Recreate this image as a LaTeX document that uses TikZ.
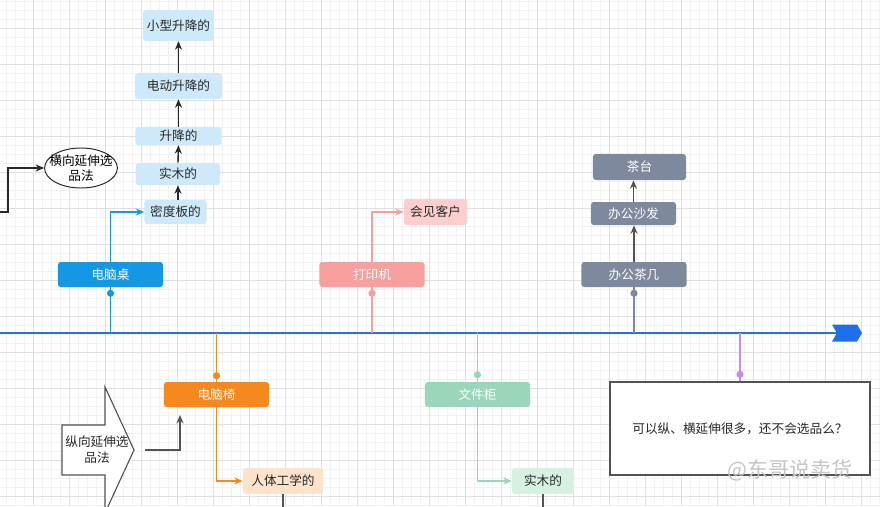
\documentclass[tikz,border=0pt]{standalone}
\usepackage{fontspec}
\setmainfont{Noto Sans CJK SC}
\usepackage{xcolor}
\usepackage{tikz}
\usetikzlibrary{shapes.geometric, shapes.symbols, arrows.meta, positioning, calc}
\definecolor{axisblue}{RGB}{47,110,214}
\definecolor{headblue}{RGB}{31,111,235}
\definecolor{deskblue}{RGB}{20,152,230}
\definecolor{paleblue}{RGB}{206,233,250}
\definecolor{prtpink}{RGB}{248,160,160}
\definecolor{palepink}{RGB}{252,206,206}
\definecolor{sofagray}{RGB}{127,137,158}
\definecolor{chairorg}{RGB}{245,137,31}
\definecolor{paleorg}{RGB}{253,226,204}
\definecolor{cabgreen}{RGB}{154,214,186}
\definecolor{palegreen}{RGB}{214,240,226}
\definecolor{notepurple}{RGB}{200,140,240}
\definecolor{mydark}{RGB}{40,40,40}
\definecolor{gridminor}{RGB}{242,242,242}
\definecolor{gridmajor}{RGB}{224,224,224}
\tikzset{
  mainbox/.style={rectangle, rounded corners=2pt, text=white,
    minimum width=2.625cm, minimum height=0.625cm, inner sep=0pt,
    font=\fontsize{9}{10.5}\selectfont},
  subbox/.style={rectangle, rounded corners=2pt, text=mydark,
    inner sep=0pt, font=\fontsize{9}{10.5}\selectfont},
  dot/.style={fill=#1},
  link/.style={line width=1pt, color=#1},
  arrow/.style={-{Stealth[length=6pt,width=5pt]}, line width=1pt, color=#1},
  line/.style={line width=0.9pt, color=mydark!80}
}

\begin{document}
\begin{tikzpicture}[x=0.025cm, y=-0.025cm]
  \useasboundingbox (0,0) rectangle (880,506);
  \fill[white] (0,0) rectangle (880,506);
  \foreach \gx in {6,15,...,879} \draw[gridminor, line width=0.4pt] (\gx,0) -- (\gx,506);
  \foreach \gy in {1,10,...,505} \draw[gridminor, line width=0.4pt] (0,\gy) -- (880,\gy);
  \foreach \gx in {33,69,...,879} \draw[gridmajor, line width=0.5pt] (\gx,0) -- (\gx,506);
  \foreach \gy in {28,64,...,505} \draw[gridmajor, line width=0.5pt] (0,\gy) -- (880,\gy);

  \coordinate (axisstart) at (0,333);
  \node[signal, signal to=east, signal from=west, signal pointer angle=120, fill=headblue,
    minimum width=0.75cm, minimum height=0.425cm, inner sep=0pt] (axhead) at (847,333) {};
  \draw[axisblue, line width=1.4pt] (axisstart) -- (axhead.west);

  \node[mainbox, fill=deskblue] (desk) at (110.5,274.5) {电脑桌};
  \node[subbox, fill=paleblue, minimum width=1.55cm, minimum height=0.6cm] (midu) at (175.5,212) {密度板的};
  \node[subbox, fill=paleblue, minimum width=2.1cm, minimum height=0.55cm] (shimu) at (178,174) {实木的};
  \node[subbox, fill=paleblue, minimum width=2.15cm, minimum height=0.45cm] (shengj) at (178.5,136) {升降的};
  \node[subbox, fill=paleblue, minimum width=2.175cm, minimum height=0.65cm] (diand) at (178.5,86) {电动升降的};
  \node[subbox, fill=paleblue, minimum width=1.775cm, minimum height=0.775cm] (xiaox) at (178.5,25.5) {小型升降的};
  \node[ellipse, draw=mydark, fill=white, line width=0.7pt, minimum width=1.8cm, minimum height=1.0cm,
    inner xsep=-4.2pt, inner ysep=0pt, align=center, font=\fontsize{9}{10.5}\selectfont] (heng) at (81,168) {横向延伸选\\品法};

  \node[mainbox, fill=prtpink] (printer) at (372,274.5) {打印机};
  \node[subbox, fill=palepink, minimum width=1.575cm, minimum height=0.65cm] (huijian) at (435.5,212) {会见客户};

  \node[mainbox, fill=sofagray] (chaji) at (634,274.5) {办公茶几};
  \node[mainbox, fill=sofagray, minimum width=2.125cm, minimum height=0.575cm] (shafa) at (633.5,213.5) {办公沙发};
  \node[mainbox, fill=sofagray, minimum width=2.325cm, minimum height=0.65cm] (chatai) at (639.5,167) {茶台};

  \node[mainbox, fill=chairorg] (chair) at (216.5,394.5) {电脑椅};
  \node[subbox, fill=paleorg, minimum width=2.0cm, minimum height=0.65cm] (renti) at (283,481) {人体工学的};
  \draw[mydark!80, fill=white, line width=0.8pt] (62,425) -- (105,425) -- (105,387) -- (134,450)
    -- (105,513) -- (105,475) -- (62,475) -- cycle;
  \node[align=center, text=mydark, font=\fontsize{9}{11.5}\selectfont] (zong) at (97,450) {纵向延伸选\\品法};

  \node[mainbox, fill=cabgreen] (cabinet) at (477.5,394.5) {文件柜};
  \node[subbox, fill=palegreen, minimum width=1.55cm, minimum height=0.65cm] (shimub) at (543,481) {实木的};

  \node[rectangle, draw=mydark!80, fill=white, line width=0.9pt, minimum width=6.5cm, minimum height=2.325cm,
    text=mydark, font=\fontsize{9}{10.5}\selectfont] (note) at (740,428.5) {可以纵、横延伸很多，还不会选品么？};
  \node[text=gray!45, font=\fontsize{15}{16}\selectfont] (mark) at (790,470) {@东哥说卖货};

  \coordinate (deskax) at (110.5,333);
  \coordinate (printax) at (372,333);
  \coordinate (chajiax) at (634,333);
  \coordinate (chairax) at (216.5,333);
  \coordinate (cabax) at (477.5,333);
  \coordinate (noteax) at (740,333);
  \coordinate (hengin) at (0,212);
  \coordinate (zongout) at (145,450);
  \coordinate (chairin) at (180,415);
  \coordinate (rentiend) at (283,510);
  \coordinate (shimuend) at (543,510);

  \draw[link=deskblue] (deskax) -- (desk.south);
  \fill[dot=deskblue] ([yshift=-0.15cm]desk.south) circle (0.09cm);
  \draw[arrow=deskblue] (desk.north) |- (midu.west);
  \draw[arrow=mydark] (midu.north -| shimu.south) -- (shimu.south);
  \draw[arrow=mydark] (shimu.north) -- (shengj.south);
  \draw[arrow=mydark] (shengj.north) -- (diand.south);
  \draw[arrow=mydark] (diand.north) -- (xiaox.south);
  \draw[arrow=mydark] (hengin) -- ++(8,0) |- (heng.west);

  \draw[link=prtpink] (printax) -- (printer.south);
  \fill[dot=prtpink] ([yshift=-0.15cm]printer.south) circle (0.09cm);
  \draw[arrow=prtpink] (printer.north) |- (huijian.west);

  \draw[link=sofagray] (chajiax) -- (chaji.south);
  \fill[dot=sofagray] ([yshift=-0.15cm]chaji.south) circle (0.09cm);
  \draw[arrow=mydark!80] (chaji.north) -- (chaji.north |- shafa.south);
  \draw[arrow=mydark!80] (shafa.north) -- (shafa.north |- chatai.south);

  \draw[link=chairorg] (chairax) -- (chair.north);
  \fill[dot=chairorg] ([yshift=0.15cm]chair.north) circle (0.09cm);
  \draw[arrow=chairorg] (chair.south) |- (renti.west);
  \draw[line] (renti.south) -- (rentiend);
  \draw[arrow=mydark!80] (zongout) -| (chairin);

  \draw[link=cabgreen] (cabax) -- (cabinet.north);
  \fill[dot=cabgreen] ([yshift=0.175cm]cabinet.north) circle (0.09cm);
  \draw[arrow=cabgreen] (cabinet.south) |- (shimub.west);
  \draw[line] (shimub.south) -- (shimuend);

  \draw[link=notepurple] (noteax) -- (note.north);
  \fill[dot=notepurple] ([yshift=0.175cm]note.north) circle (0.09cm);
\end{tikzpicture}
\end{document}
